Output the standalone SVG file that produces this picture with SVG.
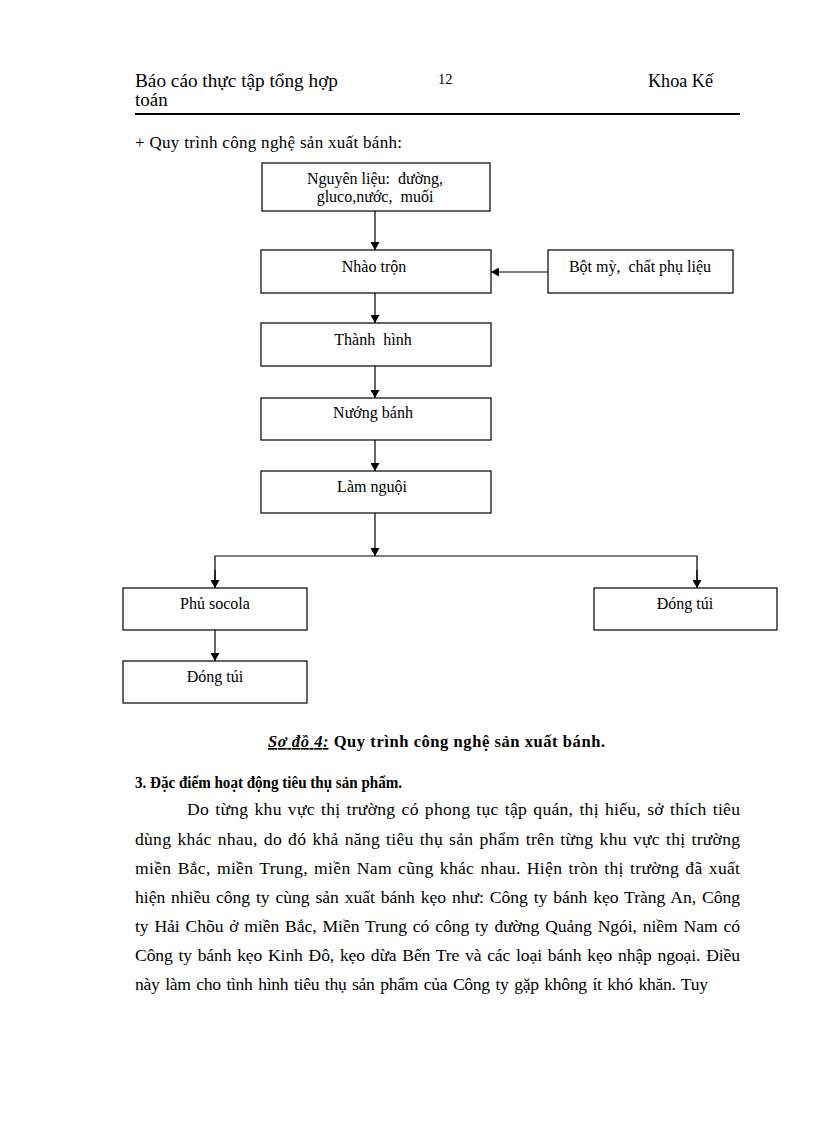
<svg xmlns="http://www.w3.org/2000/svg" width="816" height="1123" viewBox="0 0 816 1123">
<style>
text{font-family:"Liberation Serif","Times New Roman",serif;fill:#000}
.hd{font-size:19px}
.nd rect{fill:#fff;stroke:#000;stroke-width:1.2}
.nd text{font-size:16px;text-anchor:middle;white-space:pre}
.cn line,.cn path{stroke:#000;stroke-width:1.2;fill:none}
.p{font-size:17.6px;word-spacing:1.5px}
</style>
<defs>
<marker id="ah" markerWidth="8" markerHeight="9" refX="8" refY="4.5" orient="auto" markerUnits="userSpaceOnUse">
<path d="M0,0 L8,4.5 L0,9 Z" fill="#000"/>
</marker>
</defs>
<rect width="816" height="1123" fill="#fff"/>
<g id="header">
<text class="hd" x="135" y="87" textLength="203" lengthAdjust="spacingAndGlyphs">Báo cáo thực tập tổng hợp</text>
<text class="hd" x="135" y="106">toán</text>
<text x="438" y="84" style="font-size:14.5px">12</text>
<text class="hd" x="648" y="87" textLength="65" lengthAdjust="spacingAndGlyphs">Khoa Kế</text>
<line x1="135" y1="114" x2="740" y2="114" stroke="#000" stroke-width="2.2"/>
</g>
<text x="135" y="148" style="font-size:17px" textLength="267" lengthAdjust="spacing">+ Quy trình công nghệ sản xuất bánh:</text>
<g id="n1" class="nd"><rect x="262" y="163" width="228" height="48"/><text x="375" y="184" xml:space="preserve">Nguyên liệu:  đường,</text><text x="375" y="202" xml:space="preserve">gluco,nước,  muối</text></g>
<g id="n2" class="nd"><rect x="261" y="250" width="230" height="43"/><text x="374" y="272">Nhào trộn</text></g>
<g id="n3" class="nd"><rect x="548" y="250" width="185" height="43"/><text x="640" y="272" xml:space="preserve">Bột mỳ,  chất phụ liệu</text></g>
<g id="n4" class="nd"><rect x="261" y="323" width="230" height="43"/><text x="373" y="345" xml:space="preserve">Thành  hình</text></g>
<g id="n5" class="nd"><rect x="261" y="398" width="230" height="42"/><text x="373" y="418">Nướng bánh</text></g>
<g id="n6" class="nd"><rect x="261" y="471" width="230" height="42"/><text x="372" y="492">Làm nguội</text></g>
<g id="n7" class="nd"><rect x="123" y="588" width="184" height="42"/><text x="215" y="609">Phủ socola</text></g>
<g id="n8" class="nd"><rect x="594" y="588" width="183" height="42"/><text x="685" y="609">Đóng túi</text></g>
<g id="n9" class="nd"><rect x="123" y="661" width="184" height="42"/><text x="215" y="682">Đóng túi</text></g>
<g id="connectors" class="cn">
<line x1="375" y1="211" x2="375" y2="250" marker-end="url(#ah)"/>
<line x1="548" y1="272" x2="491" y2="272" marker-end="url(#ah)"/>
<line x1="375" y1="293" x2="375" y2="323" marker-end="url(#ah)"/>
<line x1="375" y1="366" x2="375" y2="398" marker-end="url(#ah)"/>
<line x1="375" y1="440" x2="375" y2="471" marker-end="url(#ah)"/>
<line x1="375" y1="513" x2="375" y2="556" marker-end="url(#ah)"/>
<path d="M215,588 L215,556 L697,556 L697,588"/>
<line x1="215" y1="570" x2="215" y2="588" marker-end="url(#ah)"/>
<line x1="697" y1="570" x2="697" y2="588" marker-end="url(#ah)"/>
<line x1="215" y1="630" x2="215" y2="661" marker-end="url(#ah)"/>
</g>
<text x="268" y="747" style="font-size:16.5px;font-weight:bold" textLength="337" lengthAdjust="spacing"><tspan font-style="italic" text-decoration="underline">Sơ đồ 4:</tspan> Quy trình công nghệ sản xuất bánh.</text>
<text x="135" y="788" style="font-size:16.5px;font-weight:bold" textLength="267" lengthAdjust="spacingAndGlyphs">3. Đặc điểm hoạt động tiêu thụ sản phẩm.</text>
<text class="p" x="187" y="815" textLength="553" lengthAdjust="spacing">Do từng khu vực thị trường có phong tục tập quán, thị hiếu, sở thích tiêu</text>
<text class="p" x="135" y="845" textLength="605" lengthAdjust="spacing">dùng khác nhau, do đó khả năng tiêu thụ sản phẩm trên từng khu vực thị trường</text>
<text class="p" x="135" y="874" textLength="605" lengthAdjust="spacing">miền Bắc, miền Trung, miền Nam cũng khác nhau. Hiện tròn thị trường đã xuất</text>
<text class="p" x="135" y="903" textLength="605" lengthAdjust="spacing">hiện nhiều công ty cùng sản xuất bánh kẹo như: Công ty bánh kẹo Tràng An, Công</text>
<text class="p" x="135" y="932" textLength="605" lengthAdjust="spacing">ty Hải Chõu ở miền Bắc, Miền Trung có công ty đường Quảng Ngói, niềm Nam có</text>
<text class="p" x="135" y="961" textLength="605" lengthAdjust="spacing">Công ty bánh kẹo Kinh Đô, kẹo dừa Bến Tre và các loại bánh kẹo nhập ngoại. Điều</text>
<text class="p" x="135" y="990" textLength="573" lengthAdjust="spacing">này làm cho tình hình tiêu thụ sản phẩm của Công ty gặp không ít khó khăn. Tuy</text>
</svg>
